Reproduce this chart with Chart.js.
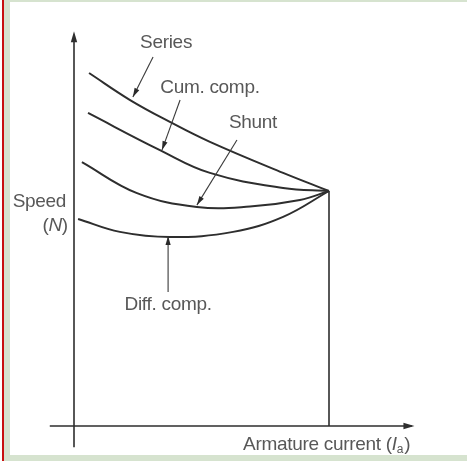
<!DOCTYPE html>
<html>
<head>
<meta charset="utf-8">
<script src="https://cdn.jsdelivr.net/npm/chart.js@4/dist/chart.umd.min.js"></script>
<style>
html,body{margin:0;padding:0;background:#fff;}
canvas{display:block;}
</style>
</head>
<body>
<canvas id="c" width="467" height="461"></canvas>
<script>
// Armature current (x, relative units) and speed (y, relative units) for each motor type
const seriesX   = [5.9, 22, 37.6, 53.3, 82, 100];
const seriesY   = [150.2, 138.7, 129.4, 120.9, 107.7, 100];
const cumX      = [5.5, 33.7, 53.3, 82, 100];
const cumY      = [133.2, 117.4, 107.7, 101.3, 100];
const shuntX    = [3.1, 24.7, 48.2, 69, 88.6, 100];
const shuntY    = [112.3, 99.1, 93.2, 93.4, 96.2, 100];
const diffX     = [1.6, 18, 37.6, 62.4, 82, 100];
const diffY     = [88.1, 82.6, 80.4, 82.6, 89, 100];
const seriesNames = ["Series", "Cum. comp.", "Shunt", "Diff. comp."];
const xAxisTitle = "Armature current (";
const yAxisTitle = ["Speed", "(N)"];

// Annotation labels with arrows (data coordinates)
const labelText  = ["Series", "Cum. comp.", "Shunt", "Diff. comp."];
const labelAt    = [[36.1,163],[53.3,143.8],[70.2,128.9],[36.9,51.5]];
const arrowFrom  = [[31,157],[41.6,138.7],[63.9,121.7],[36.9,57]];
const arrowTo    = [[23.1,140],[34.5,117.4],[48.2,94],[36.9,80.9]];

const toPts = (xs, ys) => xs.map((x, i) => ({x, y: ys[i]}));
const LINE = '#2e2e2e';
const TEXT = '#585858';
const FONT = '"Liberation Sans", Arial, sans-serif';
const FS = 19;

function arrowHead(ctx, x1, y1, x2, y2, len, half) {
  const a = Math.atan2(y2 - y1, x2 - x1);
  ctx.beginPath();
  ctx.moveTo(x2, y2);
  ctx.lineTo(x2 - len*Math.cos(a) + half*Math.sin(a), y2 - len*Math.sin(a) - half*Math.cos(a));
  ctx.lineTo(x2 - len*Math.cos(a) - half*Math.sin(a), y2 - len*Math.sin(a) + half*Math.cos(a));
  ctx.closePath();
  ctx.fill();
}

const framePlugin = {
  id: 'frame',
  beforeDraw(chart) {
    const ctx = chart.ctx, W = chart.width, H = chart.height;
    ctx.save();
    ctx.fillStyle = '#ffffff';
    ctx.fillRect(0, 0, W, H);
    ctx.fillStyle = '#d6e3cf';
    ctx.fillRect(4, 0, W - 4, 2);
    ctx.fillRect(4, 0, 6, H);
    ctx.fillRect(4, H - 6, W - 4, 6);
    ctx.fillStyle = '#c81010';
    ctx.fillRect(2, 0, 2, H);
    ctx.restore();
  },
  afterDatasetsDraw(chart) {
    const ctx = chart.ctx;
    const xs = chart.scales.x, ys = chart.scales.y;
    const px = v => xs.getPixelForValue(v), py = v => ys.getPixelForValue(v);
    const f = (it) => (it ? 'italic ' : '') + FS + 'px ' + FONT;
    ctx.save();
    // axes
    ctx.strokeStyle = LINE; ctx.fillStyle = LINE; ctx.lineWidth = 1.6;
    ctx.beginPath();
    ctx.moveTo(px(0), py(-9)); ctx.lineTo(px(0), py(166));
    ctx.moveTo(px(-9.5), py(0)); ctx.lineTo(px(132.5), py(0));
    ctx.moveTo(px(100), py(100)); ctx.lineTo(px(100), py(0));
    ctx.stroke();
    arrowHead(ctx, px(0), py(0), px(0), py(168), 11, 3.2);
    arrowHead(ctx, px(0), py(0), px(133.5), py(0), 11, 3.2);
    // annotation arrows
    ctx.lineWidth = 1.1; ctx.strokeStyle = '#3a3a3a'; ctx.fillStyle = '#2a2a2a';
    for (let i = 0; i < labelText.length; i++) {
      const x1 = px(arrowFrom[i][0]), y1 = py(arrowFrom[i][1]);
      const x2 = px(arrowTo[i][0]), y2 = py(arrowTo[i][1]);
      ctx.beginPath(); ctx.moveTo(x1, y1); ctx.lineTo(x2, y2); ctx.stroke();
      arrowHead(ctx, x1, y1, x2, y2, 9, 2.6);
    }
    // labels
    ctx.fillStyle = TEXT;
    ctx.font = f(false);
    ctx.letterSpacing = '-0.3px';
    ctx.textBaseline = 'middle';
    ctx.textAlign = 'center';
    for (let i = 0; i < labelText.length; i++) {
      ctx.fillText(labelText[i], px(labelAt[i][0]), py(labelAt[i][1]));
    }
    ctx.textAlign = 'right';
    ctx.fillText(yAxisTitle[0], px(-3.1), py(95.3));
    // (N) with italic N
    const nx = px(-2.4), ny = py(85.1);
    ctx.textAlign = 'left';
    const wClose = ctx.measureText(')').width;
    ctx.font = f(true);
    const wN = ctx.measureText('N').width;
    ctx.font = f(false);
    const wOpen = ctx.measureText('(').width;
    let cx = nx - wClose - wN - wOpen;
    ctx.fillText('(', cx, ny); cx += wOpen;
    ctx.font = f(true); ctx.fillText('N', cx, ny); cx += wN;
    ctx.font = f(false); ctx.fillText(')', cx, ny);
    // x title
    let tx = px(66.3); const ty = py(-8.1);
    ctx.fillText(xAxisTitle, tx, ty); tx += ctx.measureText(xAxisTitle).width;
    ctx.font = f(true); ctx.fillText('I', tx, ty); tx += ctx.measureText('I').width;
    ctx.font = '12px ' + FONT; ctx.fillText('a', tx, ty + 5); tx += ctx.measureText('a').width + 1;
    ctx.font = f(false); ctx.fillText(')', tx, ty);
    ctx.restore();
  }
};

const ds = (label, xs, ys) => ({
  label, data: toPts(xs, ys), showLine: true, pointRadius: 0,
  borderColor: LINE, borderWidth: 2, tension: 0.4, fill: false
});

new Chart(document.getElementById('c'), {
  type: 'scatter',
  data: {
    datasets: [
      ds(seriesNames[0], seriesX, seriesY),
      ds(seriesNames[1], cumX, cumY),
      ds(seriesNames[2], shuntX, shuntY),
      ds(seriesNames[3], diffX, diffY)
    ]
  },
  options: {
    responsive: false,
    animation: false,
    layout: { padding: { left: 48.5, right: 36, top: 26.5, bottom: 11.5 } },
    scales: {
      x: { type: 'linear', min: -10, max: 140, display: false },
      y: { type: 'linear', min: -10, max: 170, display: false }
    },
    plugins: { legend: { display: false }, tooltip: { enabled: false } }
  },
  plugins: [framePlugin]
});
</script>
</body>
</html>
